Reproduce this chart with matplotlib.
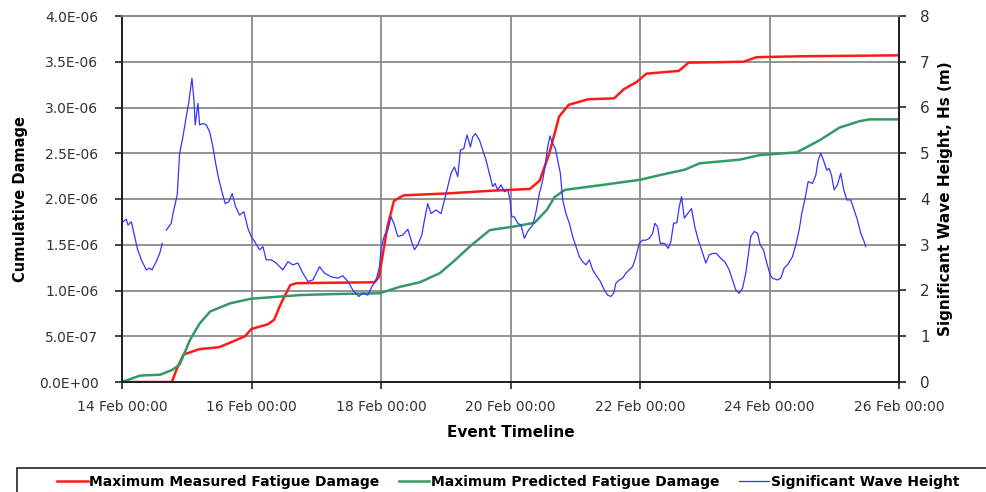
import numpy as np
import matplotlib
matplotlib.use('Agg')
import matplotlib.pyplot as plt
from matplotlib.patches import Rectangle
from matplotlib.ticker import FuncFormatter, MultipleLocator

# time axis: days after 14 Feb 00:00
tick_days = [0, 2, 4, 6, 8, 10, 12]
tick_labels = ['14 Feb 00:00', '16 Feb 00:00', '18 Feb 00:00', '20 Feb 00:00',
               '22 Feb 00:00', '24 Feb 00:00', '26 Feb 00:00']

# cumulative damage (x 1E-06)
measured_days = [0, 0.77, 0.85, 0.95, 1.2, 1.5, 1.67, 1.9, 2.0, 2.25, 2.35, 2.45, 2.52,
                 2.6, 2.7, 3.9, 3.97, 4.1, 4.2, 4.35, 5.0, 5.7, 6.3, 6.45, 6.6, 6.75,
                 6.9, 7.2, 7.6, 7.75, 7.95, 8.1, 8.6, 8.75, 9.6, 9.8, 10.5, 12.0]
measured_damage = [0, 0, 0.15, 0.30, 0.36, 0.38, 0.43, 0.5, 0.58, 0.63, 0.68, 0.85, 0.95,
                   1.06, 1.08, 1.09, 1.15, 1.7, 1.98, 2.04, 2.06, 2.09, 2.11, 2.2, 2.5, 2.9,
                   3.03, 3.09, 3.1, 3.2, 3.28, 3.37, 3.4, 3.49, 3.5, 3.55, 3.56, 3.57]

predicted_days = [0, 0.28, 0.59, 0.77, 0.89, 1.05, 1.2, 1.36, 1.67, 1.99, 2.75, 3.21,
                  3.98, 4.29, 4.6, 4.91, 5.14, 5.37, 5.68, 6.06, 6.37, 6.56, 6.68, 6.84,
                  7.38, 8.0, 8.3, 8.69, 8.92, 9.54, 9.85, 10.42, 10.77, 11.08, 11.39,
                  11.54, 12.0]
predicted_damage = [0, 0.07, 0.08, 0.13, 0.19, 0.46, 0.64, 0.77, 0.86, 0.91, 0.95, 0.96,
                    0.97, 1.04, 1.09, 1.19, 1.33, 1.48, 1.66, 1.70, 1.74, 1.88, 2.02, 2.10,
                    2.15, 2.21, 2.26, 2.32, 2.39, 2.43, 2.48, 2.51, 2.64, 2.78, 2.85,
                    2.87, 2.87]

# significant wave height (m), NaN marks a gap in the record
hs_days = [0.015, 0.066, 0.093, 0.144, 0.196, 0.236, 0.298, 0.375, 0.427, 0.463, 0.529,
           0.582, 0.622, 0.65, 0.684, 0.761, 0.787, 0.853, 0.875, 0.890, 0.941, 0.992,
           1.029, 1.080, 1.111, 1.131, 1.173, 1.199, 1.250, 1.301, 1.353, 1.404, 1.446,
           1.492, 1.543, 1.594, 1.651, 1.702, 1.755, 1.816, 1.883, 1.944, 1.995, 2.048,
           2.125, 2.176, 2.227, 2.304, 2.381, 2.485, 2.562, 2.639, 2.716, 2.793, 2.870,
           2.948, 3.051, 3.128, 3.230, 3.333, 3.410, 3.488, 3.565, 3.657, 3.719, 3.796,
           3.858, 3.924, 3.977, 4.002, 4.054, 4.105, 4.156, 4.198, 4.259, 4.336, 4.414,
           4.465, 4.517, 4.568, 4.630, 4.671, 4.722, 4.773, 4.850, 4.927, 4.980, 5.031,
           5.082, 5.134, 5.185, 5.227, 5.278, 5.329, 5.381, 5.417, 5.458, 5.520, 5.571,
           5.622, 5.674, 5.725, 5.761, 5.802, 5.853, 5.906, 5.957, 5.99, 6.02, 6.060,
           6.111, 6.162, 6.214, 6.265, 6.343, 6.394, 6.446, 6.497, 6.532, 6.574, 6.610,
           6.651, 6.693, 6.728, 6.770, 6.806, 6.856, 6.909, 6.960, 7.011, 7.063, 7.114,
           7.165, 7.218, 7.269, 7.319, 7.387, 7.449, 7.500, 7.551, 7.593, 7.628, 7.681,
           7.731, 7.782, 7.835, 7.886, 7.937, 7.989, 8.040, 8.091, 8.144, 8.194, 8.230,
           8.272, 8.313, 8.375, 8.437, 8.477, 8.519, 8.569, 8.606, 8.642, 8.684, 8.735,
           8.796, 8.847, 8.900, 8.951, 9.017, 9.069, 9.120, 9.182, 9.248, 9.310, 9.378,
           9.429, 9.480, 9.532, 9.583, 9.634, 9.676, 9.711, 9.764, 9.815, 9.856, 9.907,
           9.958, 10.011, 10.046, 10.123, 10.174, 10.227, 10.278, 10.355, 10.406, 10.458,
           10.498, 10.545, 10.597, 10.664, 10.715, 10.752, 10.792, 10.833, 10.884, 10.921,
           10.957, 10.998, 11.049, 11.100, 11.142, 11.193, 11.255, 11.307, 11.358, 11.409,
           11.461, 11.486]
hs_values = [3.50, 3.56, 3.43, 3.50, 3.18, 2.92, 2.67, 2.45, 2.49, 2.45, 2.63,
             2.81, 3.03, np.nan, 3.32, 3.47, 3.68, 4.09, 4.63, 5.00, 5.36, 5.80,
             6.09, 6.64, 6.16, 5.62, 6.09, 5.62, 5.65, 5.62, 5.47, 5.14, 4.78,
             4.45, 4.16, 3.90, 3.94, 4.12, 3.83, 3.65, 3.72, 3.36, 3.18, 3.07,
             2.89, 2.96, 2.67, 2.67, 2.60, 2.45, 2.63, 2.56, 2.60, 2.38, 2.20,
             2.23, 2.52, 2.38, 2.30, 2.27, 2.32, 2.20, 2.01, 1.87, 1.94, 1.90,
             2.08, 2.23, 2.52, 2.93, 3.21, 3.32, 3.61, 3.47, 3.18, 3.21, 3.34,
             3.10, 2.89, 3.00, 3.21, 3.54, 3.90, 3.68, 3.76, 3.68, 3.98, 4.27,
             4.56, 4.70, 4.49, 5.07, 5.10, 5.40, 5.14, 5.36, 5.43, 5.29, 5.07,
             4.85, 4.56, 4.27, 4.34, 4.20, 4.31, 4.16, 4.20, 4.00, 3.61, 3.61,
             3.47, 3.43, 3.14, 3.29, 3.43, 3.72, 4.12, 4.41, 4.70, 5.14, 5.38,
             5.21, 5.10, 4.85, 4.56, 3.98, 3.68, 3.47, 3.18, 2.96, 2.74, 2.63,
             2.56, 2.67, 2.45, 2.34, 2.20, 2.01, 1.90, 1.87, 1.94, 2.16, 2.23,
             2.27, 2.38, 2.45, 2.52, 2.74, 3.03, 3.10, 3.10, 3.14, 3.25, 3.47,
             3.39, 3.03, 3.03, 2.92, 3.07, 3.47, 3.48, 3.83, 4.05, 3.58, 3.68,
             3.79, 3.39, 3.10, 2.89, 2.60, 2.78, 2.81, 2.81, 2.70, 2.63, 2.45,
             2.23, 2.01, 1.94, 2.05, 2.38, 2.81, 3.18, 3.29, 3.25, 3.00, 2.89,
             2.60, 2.34, 2.27, 2.23, 2.27, 2.49, 2.56, 2.74, 3.00, 3.32,
             3.68, 3.98, 4.38, 4.34, 4.52, 4.85, 5.00, 4.85, 4.63, 4.67,
             4.52, 4.20, 4.31, 4.56, 4.23, 3.98, 3.98, 3.76, 3.54, 3.25,
             3.07, 2.96]

plt.rcParams['font.family'] = 'DejaVu Sans'
grid_col = '#8a8a8a'
tick_col = '#333333'

fig = plt.figure(figsize=(9.87, 4.92), dpi=100)
ax = fig.add_axes([122 / 987, 1 - 382 / 492, 777 / 987, 366 / 492])
ax2 = ax.twinx()

l1, = ax.plot(measured_days, np.array(measured_damage) * 1e-6, color='#ff1a1a', lw=1.8,
              label='Maximum Measured Fatigue Damage', zorder=3)
l2, = ax.plot(predicted_days, np.array(predicted_damage) * 1e-6, color='#339966', lw=1.8,
              label='Maximum Predicted Fatigue Damage', zorder=3)
l3, = ax2.plot(hs_days, hs_values, color='#3535ff', lw=0.9,
               label='Significant Wave Height')

ax.set_xlim(0, 12)
ax.set_ylim(0, 4e-6)
ax2.set_ylim(0, 8)
ax.set_xticks(tick_days)
ax.set_xticklabels(tick_labels)
ax.yaxis.set_major_locator(MultipleLocator(0.5e-6))
ax.yaxis.set_major_formatter(FuncFormatter(lambda v, p: f'{v:.1E}'))
ax2.yaxis.set_major_locator(MultipleLocator(1))

ax.grid(True, color=grid_col, lw=1.3)
ax.set_axisbelow(True)

for a in (ax, ax2):
    a.spines['top'].set_color(grid_col)
    a.spines['top'].set_linewidth(1.3)
    for s in ('left', 'right', 'bottom'):
        a.spines[s].set_linewidth(1.4)
        a.spines[s].set_color('#222222')
ax.tick_params(axis='both', labelsize=10, colors='#222222', labelcolor=tick_col,
               length=5, width=1.2, pad=8)
ax.tick_params(axis='y', pad=12)
ax2.tick_params(axis='y', labelsize=11, colors='#222222', labelcolor=tick_col,
                length=5, width=1.2, pad=10)

ax.set_xlabel('Event Timeline', fontsize=11, fontweight='bold', labelpad=8)
ax.set_ylabel('Cumulative Damage', fontsize=10.5, fontweight='bold', labelpad=8)
ax2.set_ylabel('Significant Wave Height, Hs (m)', fontsize=11, fontweight='bold', labelpad=6)

# legend box runs off the right and bottom edges
fig.add_artist(Rectangle((17 / 987, -0.05), 1.0, 0.05 + 24 / 492, transform=fig.transFigure,
                         fill=False, edgecolor='#222222', lw=1.2, clip_on=False))
fig.legend(handles=[l1, l2, l3], loc='center left', ncol=3,
           bbox_to_anchor=(46 / 987, 1 - 482 / 492),
           frameon=False, handlelength=2.2, handletextpad=0.1, columnspacing=1.4,
           borderpad=0.3, prop={'size': 10, 'weight': 'bold'})

fig.savefig('out.png', dpi=100)
